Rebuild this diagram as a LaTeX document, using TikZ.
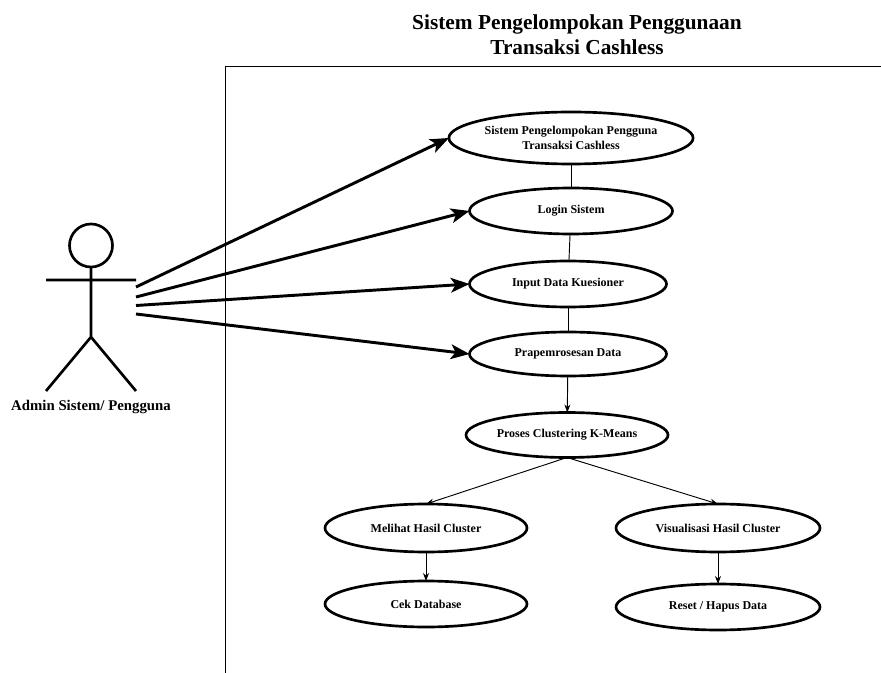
\documentclass[tikz,border=0pt]{standalone}
\usepackage{fontspec}
\setmainfont{Liberation Serif}
\usetikzlibrary{shapes.geometric,arrows.meta}
\tikzset{
  uc/.style 2 args={ellipse,draw,line width=2pt,inner sep=0pt,outer sep=0pt,minimum width=#1*0.75pt,minimum height=#2*0.75pt,font=\bfseries\fontsize{9}{11.5}\selectfont,align=center},
  thick arrow/.style={line width=2.2pt,-{Stealth[length=14pt,width=11pt,inset=3.5pt]}},
  thin arrow/.style={line width=0.7pt,-{Stealth[length=6pt,width=4.5pt]}},
  thin line/.style={line width=0.7pt},
  limb/.style={line width=2pt}
}
\begin{document}
\begin{tikzpicture}[x=0.75pt,y=-0.75pt]
\useasboundingbox (0,0) rectangle (881,673);
\draw[line width=0.7pt] (881,66) -- (225,66) -- (225,673);
\node[font=\bfseries\fontsize{16}{19}\selectfont,align=center] (title) at (577,35) {Sistem Pengelompokan Penggunaan\\Transaksi Cashless};
\node[uc={223}{52}] (a) at (571,138) {Sistem Pengelompokan Pengguna\\Transaksi Cashless};
\node[uc={203}{46}] (b) at (571,211) {Login Sistem};
\node[uc={197}{46}] (c) at (568,284) {Input Data Kuesioner};
\node[uc={197}{44}] (d) at (568,354) {Prapemrosesan Data};
\node[uc={202}{45}] (e) at (567,435) {Proses Clustering K-Means};
\node[uc={202}{48}] (f) at (426,528) {Melihat Hasil Cluster};
\node[uc={204}{48}] (g) at (718,528) {Visualisasi Hasil Cluster};
\node[uc={202}{46}] (h) at (426,604) {Cek Database};
\node[uc={204}{46}] (i) at (718,607) {Reset / Hapus Data};
\draw[thin line] (a) -- (b);
\draw[thin line] (b) -- (c);
\draw[thin line] (c) -- (d);
\draw[thin arrow] (d) -- (e);
\draw[thin arrow] (e.south) -- (f.north);
\draw[thin arrow] (e.south) -- (g.north);
\draw[thin arrow] (f) -- (h);
\draw[thin arrow] (g) -- (i);
\node[draw,circle,line width=2pt,minimum size=43*0.75pt,inner sep=0pt,outer sep=0pt] (head) at (91,245.5) {};
\coordinate (hip) at (91,337);
\coordinate (arml) at (46,280);
\coordinate (armr) at (136,280);
\coordinate (footl) at (46,391);
\coordinate (footr) at (136,391);
\draw[limb] (head) -- (hip) (arml) -- (armr) (hip) -- (footl) (hip) -- (footr);
\node[font=\bfseries\fontsize{11.1}{13}\selectfont] (actor) at (91,407) {Admin Sistem/ Pengguna};
\coordinate (s1) at (136,287);
\coordinate (s2) at (136,297);
\coordinate (s3) at (136,305.5);
\coordinate (s4) at (136,314);
\draw[thick arrow] (s1) -- (a.west);
\draw[thick arrow] (s2) -- (b.west);
\draw[thick arrow] (s3) -- (c.west);
\draw[thick arrow] (s4) -- (d.west);
\end{tikzpicture}
\end{document}
